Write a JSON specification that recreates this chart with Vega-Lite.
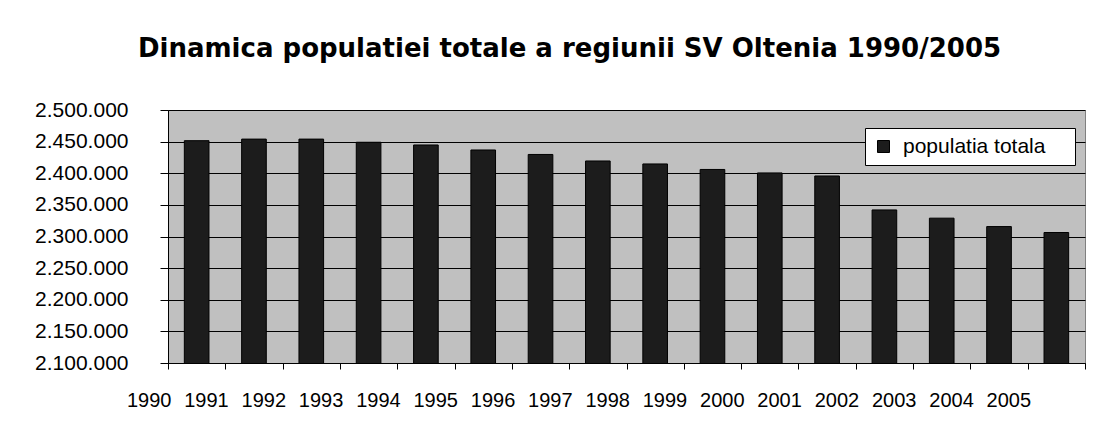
{
  "$schema": "https://vega.github.io/schema/vega-lite/v6.json",
  "autosize": {"type": "none"},
  "width": 917,
  "height": 253,
  "padding": {"left": 168, "top": 110, "right": 16, "bottom": 83},
  "background": "white",
  "title": {
    "text": "Dinamica populatiei totale a regiunii SV Oltenia 1990/2005",
    "font": "DejaVu Sans",
    "fontSize": 26,
    "fontWeight": "bold",
    "color": "black",
    "anchor": "middle",
    "dx": -57,
    "baseline": "alphabetic",
    "offset": 16
  },
  "data": {
    "values": [
      {"year": "1990", "populatia": 2451500},
      {"year": "1991", "populatia": 2454000},
      {"year": "1992", "populatia": 2454000},
      {"year": "1993", "populatia": 2449000},
      {"year": "1994", "populatia": 2444700},
      {"year": "1995", "populatia": 2436800},
      {"year": "1996", "populatia": 2429700},
      {"year": "1997", "populatia": 2419400},
      {"year": "1998", "populatia": 2414700},
      {"year": "1999", "populatia": 2406000},
      {"year": "2000", "populatia": 2400500},
      {"year": "2001", "populatia": 2395700},
      {"year": "2002", "populatia": 2342000},
      {"year": "2003", "populatia": 2329000},
      {"year": "2004", "populatia": 2315700},
      {"year": "2005", "populatia": 2306300}
    ]
  },
  "mark": {"type": "bar", "width": {"band": 0.43}, "stroke": "black", "strokeWidth": 1, "clip": true},
  "encoding": {
    "x": {
      "field": "year",
      "type": "ordinal",
      "scale": {"paddingInner": 0, "paddingOuter": 0},
      "axis": {
        "title": null,
        "labelAngle": 0,
        "tickBand": "extent",
        "labelOffset": -48,
        "tickSize": 6,
        "labelPadding": 21,
        "labelFontSize": 20,
        "labelFont": "Liberation Sans",
        "labelColor": "black",
        "domainColor": "black",
        "tickColor": "black",
        "grid": false
      }
    },
    "y": {
      "field": "populatia",
      "type": "quantitative",
      "scale": {"domain": [2100000, 2500000], "nice": false, "zero": false},
      "axis": {
        "title": null,
        "values": [2100000, 2150000, 2200000, 2250000, 2300000, 2350000, 2400000, 2450000, 2500000],
        "format": ",d",
        "tickSize": 8,
        "labelPadding": 32,
        "labelFontSize": 21,
        "labelFont": "Liberation Sans",
        "labelColor": "black",
        "domainColor": "black",
        "tickColor": "black",
        "grid": true,
        "gridColor": "black",
        "gridOpacity": 1,
        "gridWidth": 1
      }
    },
    "color": {
      "datum": "populatia totala",
      "type": "nominal",
      "scale": {"range": ["#1c1c1c"]},
      "legend": {
        "title": null,
        "orient": "none",
        "legendX": 697,
        "legendY": 18,
        "padding": 8,
        "fillColor": "white",
        "strokeColor": "black",
        "symbolType": "square",
        "symbolSize": 144,
        "symbolStrokeColor": "black",
        "symbolStrokeWidth": 1,
        "symbolFillColor": "#1c1c1c",
        "labelFont": "Liberation Sans",
        "labelFontSize": 21,
        "labelColor": "black",
        "labelOffset": 9,
        "labelLimit": 400,
        "labelExpr": "datum.label + '\u00a0\u2800'"
      }
    }
  },
  "config": {
    "locale": {"number": {"decimal": ",", "thousands": ".", "grouping": [3], "currency": ["", ""]}},
    "view": {"fill": "#c0c0c0", "stroke": "#808080", "strokeWidth": 1}
  }
}
